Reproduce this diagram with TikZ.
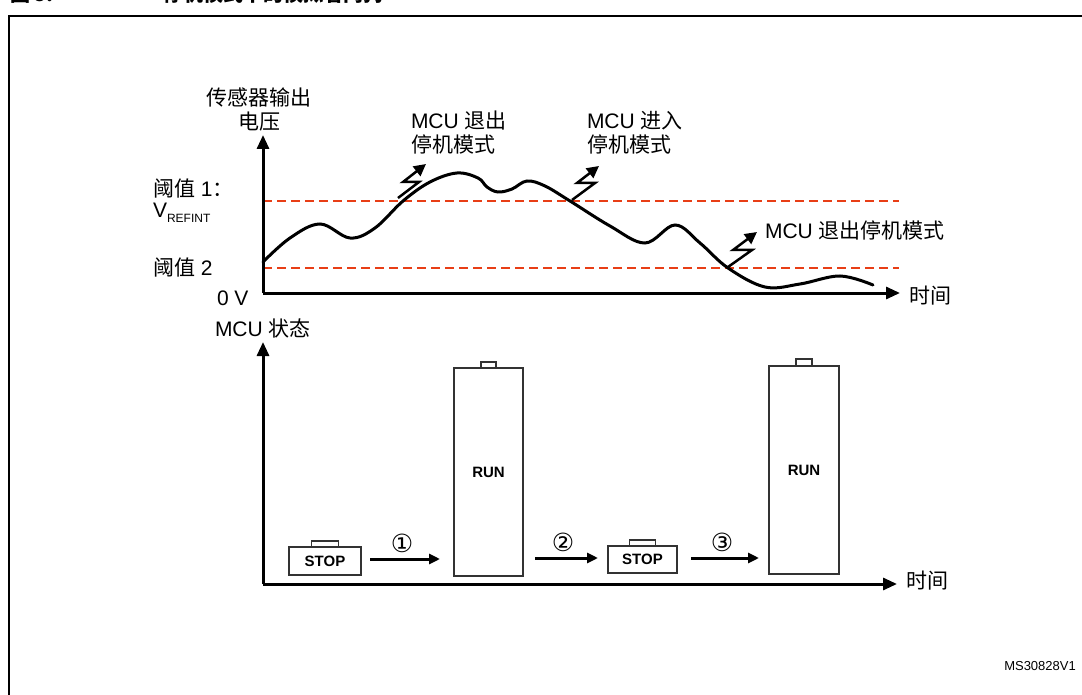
\documentclass[tikz,border=0pt]{standalone}
\usepackage{fontspec}
\setmainfont{Liberation Sans}
\newfontfamily\cjk{Noto Sans CJK SC}
\newfontfamily\dejavu{DejaVu Sans}
\usetikzlibrary{arrows.meta,calc}
\definecolor{thrred}{RGB}{232,62,22}
\begin{document}
\begin{tikzpicture}[x=1pt,y=-1pt,
  lbl/.style={font=\fontsize{21}{24}\selectfont, inner sep=0pt, outer sep=0pt},
  axis/.style={line width=3pt, -{Triangle[length=14pt,width=12pt]}},
  thr/.style={draw=thrred, line width=2.5pt, dash pattern=on 9pt off 5pt},
  curvestyle/.style={line width=3pt, line cap=round},
  bolt/.style={line width=2.5pt, -{Triangle[length=12pt,width=12pt]}},
  statebox/.style={draw=black!80, line width=1.2pt, inner sep=0pt, outer sep=0pt, font=\fontsize{15}{15}\selectfont\bfseries},
  tabbox/.style={draw=black!80, line width=1.2pt},
  trans/.style={line width=3pt, -{Triangle[length=11pt,width=10pt]}},
  num/.style={font=\dejavu\fontsize{25}{25}\selectfont, inner sep=0pt},
]
\useasboundingbox (0,0) rectangle (1082,695);
\clip (0,0) rectangle (1082,695);

% cut-off title
\node[anchor=base west, inner sep=0pt, font=\cjk\bfseries\fontsize{20}{20}\selectfont] (t1) at (10,2) {图 5.};
\node[anchor=base west, inner sep=0pt, font=\cjk\bfseries\fontsize{20}{20}\selectfont] (t2) at (163,2) {停机模式下的模拟看门狗};

% frame
\draw[line width=2pt] (9,720) -- (9,16) -- (1100,16);

% ---------- upper chart ----------
\coordinate (o1) at (263,293);
\coordinate (y1) at (263,135);
\coordinate (x1) at (900,293);
\coordinate (t1a) at (263,201);
\coordinate (t1b) at (899,201);
\coordinate (t2a) at (263,268);
\coordinate (t2b) at (899,268);

\draw[thr] (t1a) -- (t1b);
\draw[thr] (t2a) -- (t2b);

\draw[curvestyle] plot[smooth, tension=0.6] coordinates {
 (263,262) (290,238) (320,224) (350,238) (375,228) (403,201) (430,182) (457,173)
 (478,178) (487,187) (498,192) (512,189) (527,181) (545,186) (570,201)
 (610,226) (645,243) (675,225) (700,243) (728,268) (765,287) (800,284) (840,276) (873,285)};

\draw[axis] (o1) -- (y1);
\draw[axis] (o1) -- (x1);

% lightning bolts
\draw[bolt] (398,198) -- (419,182) -- (403,182) -- (426,164);
\draw[bolt] (572,200) -- (595,183) -- (577,183) -- (599,166);
\draw[bolt] (728,267) -- (752,250) -- (733,250) -- (757,232);

% labels
\node[lbl, align=center] (ylab1) at (259,109) {\cjk 传感器输出\\\cjk 电压};
\node[lbl, anchor=west] (th1) at (153,189) {{\cjk 阈值} 1{\cjk ：}};
\node[lbl, anchor=west] (vref) at (153,213) {V{\fontsize{12}{12}\selectfont\raisebox{-5pt}{REFINT}}};
\node[lbl, anchor=west] (th2) at (153,268) {{\cjk 阈值} 2};
\node[lbl, anchor=west] (zero) at (217,298) {0 V};
\node[lbl, anchor=west] (xlab1) at (909,296) {\cjk 时间};
\node[lbl, anchor=north west, align=left] (ev1) at (411,111) {MCU {\cjk 退出}\\\cjk 停机模式};
\node[lbl, anchor=north west, align=left] (ev2) at (587,111) {MCU {\cjk 进入}\\\cjk 停机模式};
\node[lbl, anchor=west] (ev3) at (765,230) {MCU {\cjk 退出停机模式}};

% ---------- lower chart ----------
\coordinate (o2) at (263,584);
\coordinate (y2) at (263,342);
\coordinate (x2) at (897,584);
\draw[axis] (o2) -- (y2);
\draw[axis] (o2) -- (x2);
\node[lbl, anchor=west] (ylab2) at (215,328) {MCU {\cjk 状态}};
\node[lbl, anchor=west] (xlab2) at (906,581) {\cjk 时间};

\node[statebox, minimum width=72pt, minimum height=28pt] (s1) at (325,561) {STOP};
\node[statebox, minimum width=69pt, minimum height=208pt] (r1) at (488.5,472) {RUN};
\node[statebox, minimum width=69pt, minimum height=27pt] (s2) at (642.5,559.5) {STOP};
\node[statebox, minimum width=70pt, minimum height=208pt] (r2) at (804,470) {RUN};

\draw[tabbox] ($(s1.north)+(-13.5,0)$) rectangle ++(27,-6);
\draw[tabbox] ($(r1.north)+(-7.5,0)$) rectangle ++(15,-6);
\draw[tabbox] ($(s2.north)+(-13,0)$) rectangle ++(26,-6);
\draw[tabbox] ($(r2.north)+(-8,0)$) rectangle ++(16,-7);

\draw[trans, shorten <=9pt, shorten >=14pt] ($(s1.east)+(0,-2)$) -- ($(s1.east -| r1.west)+(0,-2)$);
\draw[trans, shorten <=12pt, shorten >=10pt] ($(r1.east |- s2.east)+(0,-1.5)$) -- ($(s2.west)+(0,-1.5)$);
\draw[trans, shorten <=14pt, shorten >=10pt] ($(s2.east)+(0,-1.5)$) -- ($(s2.east -| r2.west)+(0,-1.5)$);

\node[num] (n1) at (402,543) {①};
\node[num] (n2) at (563,542) {②};
\node[num] (n3) at (722,542) {③};

\node[anchor=east, inner sep=0pt, font=\fontsize{13}{13}\selectfont] (ms) at (1076,666) {MS30828V1};
\end{tikzpicture}
\end{document}
